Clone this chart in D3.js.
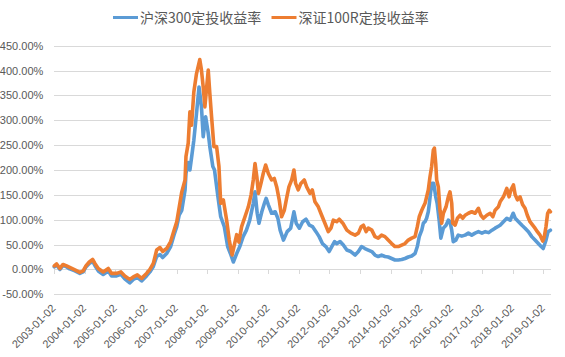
<!DOCTYPE html>
<html><head><meta charset="utf-8">
<script src="https://cdn.jsdelivr.net/npm/d3@7"></script>
<style>body{margin:0;background:#fff} svg{display:block}</style>
</head><body><svg id="c" width="565" height="357"></svg>
<script>
const seriesNames = ["沪深300定投收益率", "深证100R定投收益率"];
const xTickLabels = ["2003-01-02","2004-01-02","2005-01-02","2006-01-02","2007-01-02","2008-01-02","2009-01-02","2010-01-02","2011-01-02","2012-01-02","2013-01-02","2014-01-02","2015-01-02","2016-01-02","2017-01-02","2018-01-02","2019-01-02"];
const yTicks = [-50,0,50,100,150,200,250,300,350,400,450];

const dates300 = [
"2003-01-02","2003-01-30","2003-03-10","2003-04-16","2003-05-29","2003-07-05","2003-09-05","2003-11-03","2003-12-13",
"2004-01-15","2004-02-24","2004-04-04","2004-05-01","2004-06-10","2004-08-08","2004-10-08","2004-11-16",
"2005-01-16","2005-03-08","2005-04-23","2005-06-21","2005-08-03","2005-09-20","2005-11-10",
"2006-01-08","2006-02-17","2006-03-30","2006-05-09","2006-06-18","2006-07-20","2006-09-05","2006-10-23","2006-12-03",
"2007-01-04","2007-02-03","2007-03-05","2007-04-13","2007-04-24","2007-05-21","2007-06-10","2007-06-30","2007-07-27","2007-08-28","2007-09-27","2007-10-26","2007-11-16","2007-12-15",
"2008-01-15","2008-02-03","2008-03-10","2008-03-30","2008-05-10","2008-06-12","2008-07-25","2008-09-03","2008-10-06","2008-11-10","2008-12-20",
"2009-01-26","2009-03-07","2009-04-15","2009-05-25","2009-07-06","2009-07-27","2009-08-22","2009-09-12","2009-10-16","2009-11-16","2009-12-07",
"2010-01-02","2010-02-10","2010-03-25","2010-04-26","2010-05-23","2010-07-02","2010-08-15","2010-09-26","2010-11-04","2010-12-01",
"2011-01-08","2011-02-16","2011-03-28","2011-05-07","2011-06-15","2011-07-25","2011-09-01","2011-10-10","2011-11-20","2011-12-30",
"2012-01-30","2012-03-03","2012-03-29","2012-05-08","2012-06-16","2012-07-28","2012-09-13","2012-11-04","2012-12-13",
"2013-01-20","2013-03-01","2013-04-10","2013-05-22","2013-06-29","2013-08-07","2013-09-16","2013-10-26","2013-12-04",
"2014-01-14","2014-02-23","2014-04-04","2014-05-14","2014-06-23","2014-08-01","2014-09-11","2014-10-21","2014-11-17","2014-12-10",
"2015-01-09","2015-01-28","2015-02-17","2015-03-08","2015-03-28","2015-04-10","2015-04-25","2015-05-13","2015-06-01","2015-06-25","2015-07-12","2015-08-05","2015-08-25","2015-09-24","2015-10-26","2015-11-22","2015-12-12",
"2016-01-02","2016-01-20","2016-02-20","2016-03-20","2016-05-01","2016-06-10","2016-07-19","2016-08-28","2016-10-07","2016-11-16","2016-12-28",
"2017-02-06","2017-03-18","2017-04-27","2017-06-03","2017-07-13","2017-08-02","2017-09-11","2017-10-21","2017-11-30",
"2018-01-05","2018-01-29","2018-03-10","2018-04-20","2018-05-27","2018-07-06","2018-08-15","2018-09-23","2018-11-01","2018-12-05","2018-12-30",
"2019-02-01","2019-02-26","2019-03-26"];
const values300 = [
5,9,0,8,5,1,-3,-8,-5,
5,12,16,8,-3,-10,-3,-13,
-13,-10,-19,-27,-20,-16,-23,
-13,-5,6,26,30,24,32,46,70,
86,110,119,160,193,215,200,225,260,314,367,327,267,307,
274,247,207,200,146,106,86,46,32,15,32,
46,66,79,99,133,156,113,93,116,133,143,
130,113,116,103,79,59,76,83,116,93,
83,96,101,89,86,76,66,52,46,36,
46,56,52,56,49,39,36,29,36,
46,42,39,36,29,26,29,26,25,
22,19,19,20,22,25,27,32,46,66,
79,93,96,103,116,133,156,173,173,146,133,99,63,83,89,99,96,
79,56,59,69,67,69,73,69,73,76,73,
76,74,79,83,87,89,96,103,99,
113,103,96,89,83,76,66,59,52,46,42,
59,76,79];

const dates100R = [
"2003-01-02","2003-01-30","2003-03-10","2003-04-16","2003-05-29","2003-07-05","2003-09-05","2003-11-03","2003-12-13",
"2004-01-15","2004-02-24","2004-04-04","2004-05-01","2004-06-10","2004-08-08","2004-10-08","2004-11-16",
"2005-01-16","2005-03-08","2005-04-23","2005-06-21","2005-08-03","2005-09-20","2005-11-10",
"2006-01-08","2006-02-17","2006-03-30","2006-05-09","2006-06-18","2006-07-20","2006-09-05","2006-10-23","2006-12-03",
"2007-01-04","2007-02-03","2007-03-05","2007-04-13","2007-04-24","2007-05-21","2007-06-10","2007-06-30","2007-07-27","2007-08-28","2007-10-06","2007-10-26","2007-11-16","2007-12-06",
"2008-01-15","2008-02-03","2008-02-24","2008-03-23","2008-04-24","2008-05-22","2008-06-12","2008-07-13","2008-08-22","2008-09-22","2008-10-26","2008-12-20",
"2009-01-15","2009-02-17","2009-03-29","2009-05-08","2009-06-10","2009-07-06","2009-07-27","2009-08-18","2009-09-06","2009-10-06","2009-11-02","2009-12-01",
"2010-01-02","2010-02-10","2010-03-14","2010-04-12","2010-05-12","2010-06-09","2010-07-12","2010-08-08","2010-09-05","2010-10-08","2010-11-04","2010-11-24","2010-12-25",
"2011-01-26","2011-03-07","2011-04-05","2011-05-15","2011-06-11","2011-07-13","2011-08-22","2011-10-01","2011-11-09","2011-12-19",
"2012-01-20","2012-02-17","2012-03-29","2012-04-28","2012-06-10","2012-07-28","2012-09-13","2012-11-04","2012-12-13",
"2013-01-15","2013-02-11","2013-03-15","2013-04-10","2013-05-22","2013-06-29","2013-08-07","2013-09-16","2013-10-26","2013-12-04",
"2014-01-14","2014-02-23","2014-04-04","2014-05-14","2014-06-23","2014-08-01","2014-09-11","2014-10-21","2014-11-17","2014-12-10",
"2015-01-09","2015-01-28","2015-02-17","2015-03-28","2015-04-17","2015-05-07","2015-05-27","2015-06-09","2015-06-25","2015-07-06","2015-07-26","2015-08-15","2015-09-04","2015-09-24","2015-10-26","2015-11-22","2015-12-12",
"2016-01-02","2016-01-14","2016-02-11","2016-03-10","2016-04-11","2016-05-13","2016-06-10","2016-07-19","2016-08-28","2016-10-07","2016-11-16","2016-12-15",
"2017-01-15","2017-02-24","2017-04-05","2017-05-07","2017-06-03","2017-07-13","2017-08-02","2017-09-11","2017-10-21","2017-11-17","2017-12-10",
"2018-01-08","2018-01-29","2018-02-25","2018-03-28","2018-04-29","2018-05-27","2018-06-23","2018-07-25","2018-08-26","2018-09-23","2018-10-21","2018-11-22","2018-12-24",
"2019-01-11","2019-02-01","2019-02-21","2019-03-12","2019-03-26"];
const values100R = [
7,11,2,10,7,4,-1,-6,-3,
7,15,20,12,2,-5,2,-8,
-8,-5,-13,-20,-15,-11,-18,
-8,0,12,39,44,36,42,56,79,
96,126,156,180,227,254,317,290,357,394,422,401,367,327,
401,354,307,247,247,207,133,140,99,59,29,70,
55,86,106,126,150,180,213,186,153,173,193,210,
193,180,183,166,140,106,119,143,166,180,200,173,160,
173,180,166,153,160,136,126,109,93,76,
83,99,96,101,93,79,73,69,73,
86,89,76,83,79,66,63,69,66,59,
52,46,46,49,52,59,63,66,86,106,
119,126,133,160,186,207,240,244,213,180,166,119,93,113,126,146,156,
133,93,89,103,109,103,109,113,116,113,123,109,
103,109,113,106,119,126,136,146,163,146,160,
170,150,140,146,130,123,109,96,89,83,76,69,57,
65,86,113,119,116];

const colors = ["#5B9BD5", "#ED7D31"];
const W = 565, H = 357;
const axisFont = "'Liberation Sans', Arial, sans-serif";
const legendFont = "'Noto Sans CJK SC', sans-serif";
const textColor = "#595959", gridColor = "#d9d9d9";

const parse = d3.timeParse("%Y-%m-%d");
const svg = d3.select("#c");
svg.append("rect").attr("width", W).attr("height", H).attr("fill", "#fff");

const left = 54.3, right = 550.5;
const x = d3.scaleTime().domain([parse("2003-01-02"), parse("2019-03-27")]).range([left, right]);
const y = d3.scaleLinear().domain([-50, 450]).range([294.3, 45.7]);

// y gridlines and labels
const gy = svg.append("g").attr("transform", `translate(${left},0)`)
  .call(d3.axisLeft(y).tickValues(yTicks).tickSize(-(right - left)).tickPadding(11)
    .tickFormat(d => d.toFixed(2) + "%"));
gy.select(".domain").remove();
gy.selectAll(".tick line").attr("stroke", gridColor).attr("shape-rendering", "crispEdges");
gy.selectAll(".tick text").attr("fill", textColor).style("font-family", axisFont).style("font-size", "11px");

// x axis line at 0 with ticks
const tickDates = xTickLabels.map(parse);
const gx = svg.append("g").attr("transform", `translate(0,${y(0)})`)
  .call(d3.axisBottom(x).tickValues(tickDates).tickSize(5).tickSizeOuter(0).tickFormat(""));
gx.select(".domain").attr("stroke", gridColor).attr("shape-rendering", "crispEdges");
gx.selectAll(".tick line").attr("stroke", gridColor).attr("shape-rendering", "crispEdges");

// rotated labels at the bottom
svg.append("g").selectAll("text").data(xTickLabels).join("text")
  .attr("transform", d => `translate(${x(parse(d)) + 2},309) rotate(-45)`)
  .attr("text-anchor", "end")
  .attr("fill", textColor).style("font-family", axisFont).style("font-size", "11px")
  .text(d => d);

// lines
const line = d3.line().x(d => x(d.date)).y(d => y(d.value));
const s300 = dates300.map((d, i) => ({date: parse(d), value: values300[i]}));
const s100 = dates100R.map((d, i) => ({date: parse(d), value: values100R[i]}));
[s300, s100].forEach((s, i) => {
  svg.append("path").datum(s).attr("d", line).attr("fill", "none")
    .attr("stroke", colors[i]).attr("stroke-width", 3.6)
    .attr("stroke-linejoin", "round").attr("stroke-linecap", "round");
});

// legend
const legendItems = [{x: 113, name: seriesNames[0], c: colors[0]}, {x: 271.5, name: seriesNames[1], c: colors[1]}];
const lg = svg.append("g");
legendItems.forEach(it => {
  lg.append("line").attr("x1", it.x).attr("x2", it.x + 25).attr("y1", 17.5).attr("y2", 17.5)
    .attr("stroke", it.c).attr("stroke-width", 3);
  lg.append("text").attr("x", it.x + 27).attr("y", 22.5).attr("fill", textColor)
    .style("font-family", legendFont).style("font-size", "14px").text(it.name);
});
</script>
</body></html>
